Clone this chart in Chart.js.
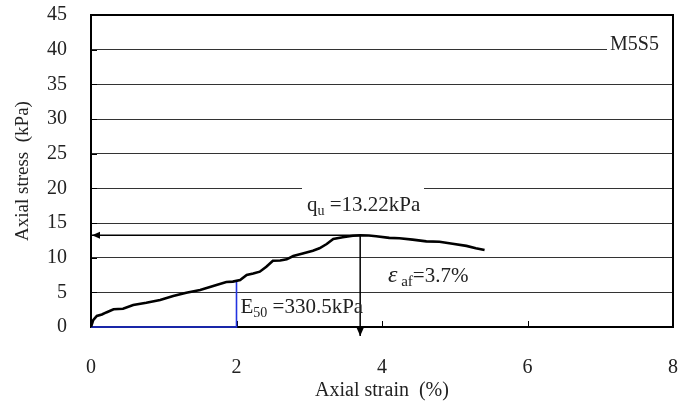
<!DOCTYPE html>
<html>
<head>
<meta charset="utf-8">
<script src="https://cdn.jsdelivr.net/npm/chart.js@4.4.1/dist/chart.umd.min.js"></script>
<style>
  html, body { margin: 0; padding: 0; background: #fff; }
  #wrap { width: 678px; height: 407px; }
</style>
</head>
<body>
<div id="wrap"><canvas id="c" width="678" height="407"></canvas></div>
<script>
// Unconfined compression test, specimen M5S5
const strainPct = [0, 0.03, 0.08, 0.15, 0.21, 0.31, 0.44, 0.58, 0.76, 0.95, 1.13, 1.31, 1.5, 1.68, 1.86, 1.95, 2.05, 2.14, 2.23, 2.32, 2.41, 2.5, 2.6, 2.69, 2.78, 2.91, 3.05, 3.14, 3.24, 3.33, 3.46, 3.6, 3.7, 3.82, 3.92, 4.1, 4.24, 4.42, 4.61, 4.79, 4.97, 5.16, 5.29, 5.41];
const stressKPa = [0, 1.0, 1.6, 1.8, 2.1, 2.55, 2.64, 3.17, 3.5, 3.9, 4.47, 4.95, 5.34, 5.9, 6.49, 6.55, 6.78, 7.5, 7.7, 7.98, 8.7, 9.56, 9.6, 9.76, 10.24, 10.6, 11.0, 11.35, 11.97, 12.69, 12.95, 13.15, 13.22, 13.2, 13.1, 12.85, 12.8, 12.6, 12.35, 12.3, 12.0, 11.7, 11.35, 11.1];
const xTicks = [0, 2, 4, 6, 8];
const yTicks = [0, 5, 10, 15, 20, 25, 30, 35, 40, 45];
const specimen = 'M5S5';
const qu = 13.22;      // unconfined strength, kPa
const epsAf = 3.7;     // strain at failure, %
const e50 = 330.5;     // secant modulus at qu/2, kPa
const eps50 = (qu / 2) / e50 * 100; // strain at qu/2, %

const SERIF = '"Liberation Serif", "Times New Roman", serif';

function drawRuns(ctx, x, y, runs) {
  let cx = x;
  for (const r of runs) {
    ctx.font = (r.italic ? 'italic ' : '') + r.size + 'px ' + SERIF;
    ctx.fillText(r.text, cx, y + (r.dy || 0));
    cx += ctx.measureText(r.text).width;
  }
}

const decor = {
  id: 'decor',
  beforeDatasetsDraw(chart) {
    const { ctx, chartArea: a, scales: { x, y } } = chart;
    ctx.save();
    // label backgrounds break the grid lines
    ctx.fillStyle = '#fff';
    ctx.fillRect(302, y.getPixelForValue(qu) - 57, 122, 40);
    ctx.fillRect(a.right - 66, y.getPixelForValue(40) - 14, 65, 22);
    // inner tick marks
    ctx.strokeStyle = '#000';
    ctx.lineWidth = 1;
    ctx.beginPath();
    for (const t of xTicks) {
      const px = Math.round(x.getPixelForValue(t)) + 0.5;
      ctx.moveTo(px, a.bottom); ctx.lineTo(px, a.bottom - 6);
    }
    for (const t of yTicks) {
      const py = Math.round(y.getPixelForValue(t)) + 0.5;
      ctx.moveTo(a.left, py); ctx.lineTo(a.left + 6, py);
    }
    ctx.stroke();
    // frame
    ctx.lineWidth = 2;
    ctx.strokeRect(a.left, a.top, a.right - a.left, a.bottom - a.top);
    ctx.restore();
  },
  afterDatasetsDraw(chart) {
    const { ctx, chartArea: a, scales: { x, y } } = chart;
    const px = x.getPixelForValue(epsAf);
    const py = y.getPixelForValue(qu);
    ctx.save();
    ctx.fillStyle = '#000';
    // arrow heads
    const hx = x.getPixelForValue(0) + 1;
    ctx.beginPath();
    ctx.moveTo(hx, py); ctx.lineTo(hx + 8, py - 3.5); ctx.lineTo(hx + 8, py + 3.5); ctx.closePath();
    ctx.fill();
    const vy = y.getPixelForValue(-1.3);
    ctx.beginPath();
    ctx.moveTo(px, vy); ctx.lineTo(px - 3.5, vy - 8); ctx.lineTo(px + 3.5, vy - 8); ctx.closePath();
    ctx.fill();
    // annotations
    ctx.fillStyle = '#222';
    ctx.textBaseline = 'alphabetic';
    ctx.textAlign = 'left';
    drawRuns(ctx, 307, py - 24, [
      { text: 'q', size: 21 },
      { text: 'u', size: 14, dy: 4 },
      { text: ' =13.22kPa', size: 21 }
    ]);
    drawRuns(ctx, 388, py + 47, [
      { text: 'ε', size: 24, italic: true },
      { text: ' af', size: 15, dy: 4 },
      { text: '=3.7%', size: 21 }
    ]);
    drawRuns(ctx, x.getPixelForValue(eps50) + 4, a.bottom - 14, [
      { text: 'E', size: 21 },
      { text: '50', size: 14, dy: 4 },
      { text: ' =330.5kPa', size: 21 }
    ]);
    drawRuns(ctx, a.right - 63, y.getPixelForValue(40) + 0, [
      { text: specimen, size: 20 }
    ]);
    ctx.restore();
  }
};

new Chart(document.getElementById('c'), {
  type: 'scatter',
  data: {
    datasets: [
      {
        label: 'stress-strain',
        data: strainPct.map((s, i) => ({ x: s, y: stressKPa[i] })),
        showLine: true,
        borderColor: '#000',
        borderWidth: 2.6,
        pointRadius: 0,
        tension: 0
      },
      {
        label: 'E50',
        data: [{ x: 0, y: 0 }, { x: eps50, y: 0 }, { x: eps50, y: qu / 2 }],
        showLine: true,
        borderColor: '#2233e0',
        borderWidth: 1.6,
        pointRadius: 0,
        clip: false
      },
      {
        label: 'qu',
        data: [{ x: epsAf, y: qu }, { x: 0, y: qu }],
        showLine: true,
        borderColor: '#000',
        borderWidth: 1.5,
        pointRadius: 0
      },
      {
        label: 'eps_af',
        data: [{ x: epsAf, y: qu }, { x: epsAf, y: -1.3 }],
        showLine: true,
        borderColor: '#000',
        borderWidth: 1.5,
        pointRadius: 0,
        clip: false
      }
    ]
  },
  options: {
    responsive: false,
    animation: false,
    devicePixelRatio: 1,
    layout: { padding: { left: 0, top: 15, right: 5, bottom: 0 } },
    plugins: { legend: { display: false }, tooltip: { enabled: false } },
    scales: {
      x: {
        type: 'linear',
        min: 0, max: 8,
        afterBuildTicks: s => { s.ticks = xTicks.map(v => ({ value: v })); },
        afterFit: s => { s.height = 80; s.paddingLeft = 0; s.paddingRight = 0; },
        grid: { display: false },
        border: { display: false },
        ticks: { color: '#222', padding: 21, font: { family: SERIF, size: 20 } },
        title: { display: true, text: 'Axial strain  (%)', color: '#222', font: { family: SERIF, size: 20 }, padding: { top: 0 } }
      },
      y: {
        min: 0, max: 45,
        afterBuildTicks: s => { s.ticks = yTicks.map(v => ({ value: v })); },
        afterFit: s => { s.width = 91; s.paddingTop = 0; s.paddingBottom = 0; },
        grid: { color: '#333', lineWidth: 1, drawTicks: false },
        border: { display: false },
        ticks: { color: '#222', padding: 24, font: { family: SERIF, size: 20 } },
        title: { display: true, text: 'Axial stress  (kPa)', color: '#222', font: { family: SERIF, size: 19 }, padding: { top: 12 } }
      }
    }
  },
  plugins: [decor]
});
</script>
</body>
</html>
